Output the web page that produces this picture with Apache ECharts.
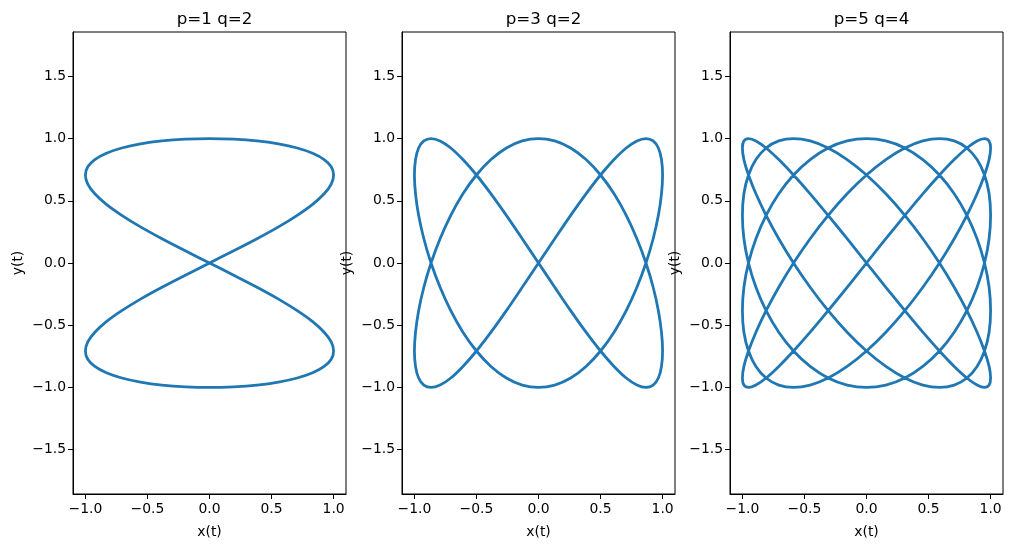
<!DOCTYPE html>
<html>
<head>
<meta charset="utf-8">
<script src="https://cdn.jsdelivr.net/npm/echarts@6/dist/echarts.min.js"></script>
<style>
html,body{margin:0;padding:0;background:#fff;}
#chart{width:1012px;height:547px;}
</style>
</head>
<body>
<div id="chart"></div>
<script>
// Subplot titles
const titles = ['p=1 q=2', 'p=3 q=2', 'p=5 q=4'];
// Tick labels
const xTicks = [-1.0, -0.5, 0.0, 0.5, 1.0];
const yTicks = [-1.5, -1.0, -0.5, 0.0, 0.5, 1.0, 1.5];

// Curve 1 (p=1 q=2)
const x1 = [0,.195,.383,.556,.707,.831,.924,.981,1,.981,.924,.831,.707,.556,.383,.195,0,-.195,-.383,-.556,-.707,-.831,-.924,-.981,-1,-.981,-.924,-.831,-.707,-.556,-.383,-.195,
            0,.195,.383,.556,.707,.831,.924,.981,1,.981,.924,.831,.707,.556,.383,.195,0,-.195,-.383,-.556,-.707,-.831,-.924,-.981,-1,-.981,-.924,-.831,-.707,-.556,-.383,-.195,
            0];
const y1 = [0,.098,.195,.290,.383,.471,.556,.634,.707,.773,.831,.882,.924,.957,.981,.995,1,.995,.981,.957,.924,.882,.831,.773,.707,.634,.556,.471,.383,.290,.195,.098,
            0,-.098,-.195,-.290,-.383,-.471,-.556,-.634,-.707,-.773,-.831,-.882,-.924,-.957,-.981,-.995,-1,-.995,-.981,-.957,-.924,-.882,-.831,-.773,-.707,-.634,-.556,-.471,-.383,-.290,-.195,-.098,
            0];

// Curve 2 (p=3 q=2)
const x2 = [0,.131,.259,.383,.5,.609,.707,.793,.866,.924,.966,.991,1,.991,.966,.924,.866,.793,.707,.609,.5,.383,.259,.131,0,-.131,-.259,-.383,-.5,-.609,-.707,-.793,-.866,-.924,-.966,-.991,-1,-.991,-.966,-.924,-.866,-.793,-.707,-.609,-.5,-.383,-.259,-.131,
            0,.131,.259,.383,.5,.609,.707,.793,.866,.924,.966,.991,1,.991,.966,.924,.866,.793,.707,.609,.5,.383,.259,.131,0,-.131,-.259,-.383,-.5,-.609,-.707,-.793,-.866,-.924,-.966,-.991,-1,-.991,-.966,-.924,-.866,-.793,-.707,-.609,-.5,-.383,-.259,-.131,
            0];
const y2 = [0,.195,.383,.556,.707,.831,.924,.981,1,.981,.924,.831,.707,.556,.383,.195,0,-.195,-.383,-.556,-.707,-.831,-.924,-.981,-1,-.981,-.924,-.831,-.707,-.556,-.383,-.195,
            0,.195,.383,.556,.707,.831,.924,.981,1,.981,.924,.831,.707,.556,.383,.195,0,-.195,-.383,-.556,-.707,-.831,-.924,-.981,-1,-.981,-.924,-.831,-.707,-.556,-.383,-.195,
            0,.195,.383,.556,.707,.831,.924,.981,1,.981,.924,.831,.707,.556,.383,.195,0,-.195,-.383,-.556,-.707,-.831,-.924,-.981,-1,-.981,-.924,-.831,-.707,-.556,-.383,-.195,
            0];

// Curve 3 (p=5 q=4)
const x3 = [0,.156,.309,.454,.588,.707,.809,.891,.951,.988,1,.988,.951,.891,.809,.707,.588,.454,.309,.156,0,-.156,-.309,-.454,-.588,-.707,-.809,-.891,-.951,-.988,-1,-.988,-.951,-.891,-.809,-.707,-.588,-.454,-.309,-.156,
            0,.156,.309,.454,.588,.707,.809,.891,.951,.988,1,.988,.951,.891,.809,.707,.588,.454,.309,.156,0,-.156,-.309,-.454,-.588,-.707,-.809,-.891,-.951,-.988,-1,-.988,-.951,-.891,-.809,-.707,-.588,-.454,-.309,-.156,
            0,.156,.309,.454,.588,.707,.809,.891,.951,.988,1,.988,.951,.891,.809,.707,.588,.454,.309,.156,0,-.156,-.309,-.454,-.588,-.707,-.809,-.891,-.951,-.988,-1,-.988,-.951,-.891,-.809,-.707,-.588,-.454,-.309,-.156,
            0,.156,.309,.454,.588,.707,.809,.891,.951,.988,1,.988,.951,.891,.809,.707,.588,.454,.309,.156,0,-.156,-.309,-.454,-.588,-.707,-.809,-.891,-.951,-.988,-1,-.988,-.951,-.891,-.809,-.707,-.588,-.454,-.309,-.156,
            0];
const y3 = [0,.195,.383,.556,.707,.831,.924,.981,1,.981,.924,.831,.707,.556,.383,.195,0,-.195,-.383,-.556,-.707,-.831,-.924,-.981,-1,-.981,-.924,-.831,-.707,-.556,-.383,-.195,
            0,.195,.383,.556,.707,.831,.924,.981,1,.981,.924,.831,.707,.556,.383,.195,0,-.195,-.383,-.556,-.707,-.831,-.924,-.981,-1,-.981,-.924,-.831,-.707,-.556,-.383,-.195,
            0,.195,.383,.556,.707,.831,.924,.981,1,.981,.924,.831,.707,.556,.383,.195,0,-.195,-.383,-.556,-.707,-.831,-.924,-.981,-1,-.981,-.924,-.831,-.707,-.556,-.383,-.195,
            0,.195,.383,.556,.707,.831,.924,.981,1,.981,.924,.831,.707,.556,.383,.195,0,-.195,-.383,-.556,-.707,-.831,-.924,-.981,-1,-.981,-.924,-.831,-.707,-.556,-.383,-.195,
            0,.195,.383,.556,.707,.831,.924,.981,1,.981,.924,.831,.707,.556,.383,.195,0,-.195,-.383,-.556,-.707,-.831,-.924,-.981,-1,-.981,-.924,-.831,-.707,-.556,-.383,-.195,
            0];

const curves = [[x1, y1], [x2, y2], [x3, y3]];
const FONT = 'DejaVu Sans';
const lefts = [73, 402, 730];
const W = 273, TOP = 32, H = 462;

const fmt = v => (v < 0 ? '\u2212' : '') + Math.abs(v).toFixed(1);

const grids = [], xAxes = [], yAxes = [], series = [], title = [];
lefts.forEach((l, i) => {
  grids.push({left: l, top: TOP, width: W, height: H, show: true, borderColor: '#000', borderWidth: 1, backgroundColor: 'transparent'});
  title.push({text: titles[i], left: l + W / 2, top: 6, textAlign: 'center',
    textStyle: {fontFamily: FONT, fontSize: 16.7, fontWeight: 'normal', color: '#000'}});
  xAxes.push({type: 'value', gridIndex: i, min: -1.1, max: 1.1,
    name: 'x(t)', nameLocation: 'middle', nameGap: 31,
    nameTextStyle: {fontFamily: FONT, fontSize: 13.9, color: '#000'},
    axisLine: {show: true, onZero: false, lineStyle: {color: '#000', width: 1}},
    axisTick: {show: true, length: 5, customValues: xTicks, lineStyle: {color: '#000'}},
    axisLabel: {show: true, margin: 8, customValues: xTicks, formatter: fmt, fontFamily: FONT, fontSize: 13.9, color: '#000'},
    splitLine: {show: false}});
  yAxes.push({type: 'value', gridIndex: i, min: -1.856, max: 1.856,
    name: 'y(t)', nameLocation: 'middle', nameGap: 48,
    nameTextStyle: {fontFamily: FONT, fontSize: 13.9, color: '#000'},
    axisLine: {show: true, onZero: false, lineStyle: {color: '#000', width: 1}},
    axisTick: {show: true, length: 5, customValues: yTicks, lineStyle: {color: '#000'}},
    axisLabel: {show: true, margin: 7, customValues: yTicks, formatter: fmt, fontFamily: FONT, fontSize: 13.9, color: '#000'},
    splitLine: {show: false}});
  const [xs, ys] = curves[i];
  series.push({type: 'line', xAxisIndex: i, yAxisIndex: i,
    data: xs.map((x, k) => [x, ys[k]]),
    showSymbol: false, symbol: 'none', smooth: 0.3,
    lineStyle: {color: '#1f77b4', width: 2.8, cap: 'round', join: 'round'},
    animation: false});
});

const chart = echarts.init(document.getElementById('chart'), null, {renderer: 'canvas'});
chart.setOption({animation: false, backgroundColor: '#fff', title, grid: grids, xAxis: xAxes, yAxis: yAxes, series});
</script>
</body>
</html>
